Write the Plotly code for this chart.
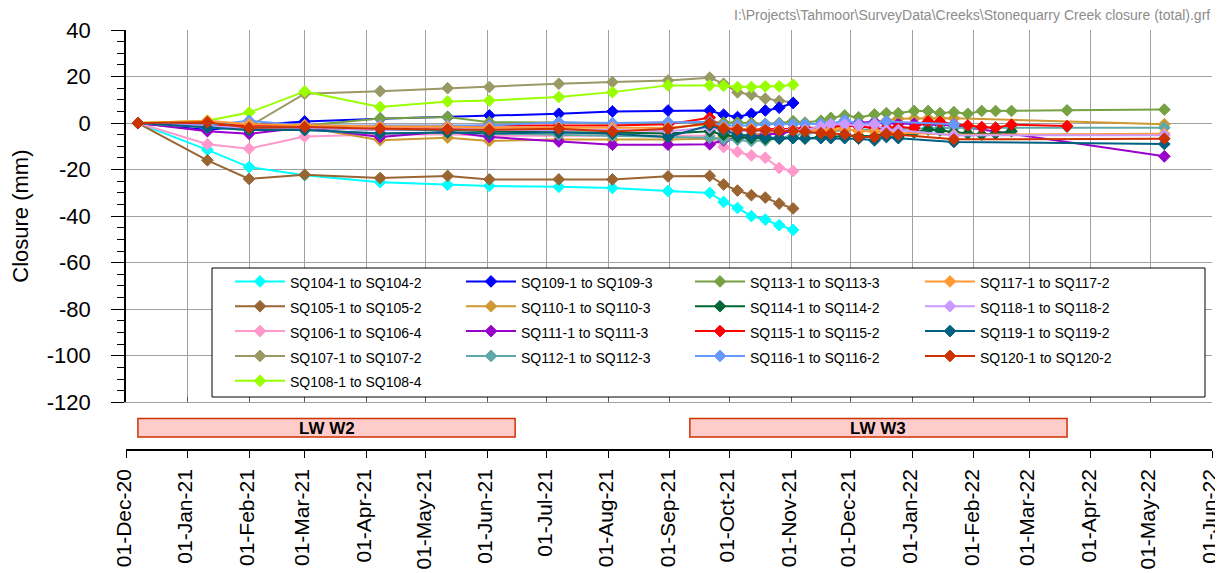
import pandas as pd
import plotly.graph_objects as go

FONT = "Arial, 'Liberation Sans', sans-serif"
N = None

dates = ["2020-12-07", "2021-01-11", "2021-02-01", "2021-03-01", "2021-04-08", "2021-05-12",
         "2021-06-02", "2021-07-07", "2021-08-03", "2021-08-31", "2021-09-21", "2021-09-28",
         "2021-10-05", "2021-10-12", "2021-10-19", "2021-10-26", "2021-11-02", "2021-11-08",
         "2021-11-16", "2021-11-21", "2021-11-28", "2021-12-05", "2021-12-13", "2021-12-19",
         "2021-12-25", "2022-01-02", "2022-01-09", "2022-01-15", "2022-01-22", "2022-01-29",
         "2022-02-05", "2022-02-12", "2022-02-20", "2022-03-20", "2022-05-08"]

names = ["SQ104-1 to SQ104-2", "SQ105-1 to SQ105-2", "SQ106-1 to SQ106-4", "SQ107-1 to SQ107-2",
         "SQ108-1 to SQ108-4", "SQ109-1 to SQ109-3", "SQ110-1 to SQ110-3", "SQ111-1 to SQ111-3",
         "SQ112-1 to SQ112-3", "SQ113-1 to SQ113-3", "SQ114-1 to SQ114-2", "SQ115-1 to SQ115-2",
         "SQ116-1 to SQ116-2", "SQ117-1 to SQ117-2", "SQ118-1 to SQ118-2", "SQ119-1 to SQ119-2",
         "SQ120-1 to SQ120-2"]

colors = ["#00FFFF", "#996633", "#FF99CC", "#999966", "#99FF00", "#0000FF", "#CC9933", "#9900CC",
          "#5FA8A8", "#76A244", "#006633", "#FF0000", "#6699FF", "#FF9933", "#CC99FF", "#00607F",
          "#CC3300"]

sq104 = [0, -11.5, -18.9, -22.4, -25.4, -26.5, -27.0, -27.4, -27.9, -29.2, -30.0, -33.9, -36.5,
         -40.0, -41.5, -43.9, -45.9]
sq105 = [0, -16.0, -24.0, -22.2, -23.6, -22.7, -24.2, -24.2, -24.2, -22.9, -22.7, -26.4, -29.0,
         -31.0, -32.0, -34.6, -36.7]
sq106 = [0, -9.1, -11.0, -5.8, -4.9, -4.8, -5.4, -5.4, -5.1, -5.1, -5.4, -10.3, -12.4, -13.9,
         -14.9, -19.3, -20.6]
sq107 = [0, -0.5, -1.5, 12.6, 13.7, 15.0, 15.5, 16.9, 17.6, 18.3, 19.5, 16.9, 13.2, 12.2, 10.5,
         9.5, 8.8]
sq108 = [0, 1.0, 4.5, 13.6, 6.9, 9.3, 9.7, 11.2, 13.3, 16.2, 16.2, 16.0, 15.5, 15.5, 15.8, 15.8,
         16.5]
sq109 = [0, -3.0, -1.0, 0.7, 1.9, 2.6, 3.3, 4.0, 5.0, 5.4, 5.4, 3.6, 2.6, 4.0, 5.4, 6.6, 8.6]
sq110 = [0, -1.0, -2.1, -1.7, -7.4, -6.3, -7.7, -7.1, -7.1, -7.1, -6.7, -6.0, -5.5, -5.0, -4.5,
         -4.0, -3.5, -3.0, -2.5, -2.0, -1.5, -0.5, 0.5, 1.0, 1.9, 2.0, 2.0, 2.0, 2.1, N, N, N, N, N,
         -0.5]
sq111 = [0, -3.5, -4.6, -1.9, -6.0, -3.6, -6.0, -7.9, -9.3, -9.3, -9.1, -7.4, -6.5, -6.0, -5.0,
         -4.5, -3.5, -3.0, -2.0, -1.5, -0.5, 0.2, 0.5, 0.0, -0.3, -0.3, -0.5, -0.8, -1.0, N, N, N,
         N, N, -14.3]
sq112 = [0, -2.0, -3.0, -3.0, -4.5, -4.0, -4.5, -5.0, -5.5, -6.0, -6.3, -7.0, -7.2, -7.7, -7.5,
         -6.5, -5.5, -4.5, -4.0, -3.5, -3.0, -3.0, -2.5, -2.5, -2.5, -2.3, -2.2, -2.2, -2.0, -2.0,
         -2.0, -1.9, -1.8, -1.7, -2.0]
sq113 = [0, -1.0, -1.5, -1.0, 2.0, 2.6, 0.4, 0.2, -0.3, 0.2, 0.4, 0.2, 0.2, 0.0, -0.3, 0.0, 0.8,
         0.2, 1.0, 2.2, 3.3, 2.5, 3.7, 4.3, 4.3, 5.2, 5.2, 4.3, 4.7, 4.0, 5.2, 5.2, 5.2, 5.5, 5.8]
sq114 = [0, -1.0, -2.0, -2.0, -3.0, -3.0, -3.5, -4.0, -4.0, -4.5, -3.5, -5.0, -6.0, -6.5, -6.7,
         -6.7, -6.3, -6.7, -6.0, -6.0, -5.5, -5.5, -5.7, -4.0, -6.0, -4.0, -2.8, -3.2, -4.0, -4.5,
         -5.0, -4.5, -3.5]
sq115 = [0, -0.5, -1.0, -1.0, -1.5, -1.5, -1.0, -1.0, -1.0, -0.5, 2.3, -2.0, -2.5, -2.5, -2.5,
         -2.5, -2.5, -2.0, -2.0, -1.5, -1.0, -1.5, -2.0, -2.0, -1.7, -2.1, 0.7, 0.5, -0.5, -1.0,
         -1.7, -2.0, -0.7, -1.3]
sq116 = [0, -1.0, 1.0, -1.0, -1.0, -1.0, -1.0, 0.4, 0.0, 0.4, 0.5, -1.0, -1.0, -1.0, -0.5, -0.5,
         -0.5, -0.5, -0.3, -0.3, 1.2, -0.3, 0.0, 0.7, N, N, N, N, -0.5]
sq117 = [0, 1.0, -0.5, -1.0, -1.5, -1.5, -2.0, -2.0, -2.0, -2.0, -0.5, -2.0, -2.5, -2.5, -3.0,
         -3.0, -3.0, -3.0, -3.0, -3.0, -2.4, -3.5, -3.5, -4.0, -4.0, N, N, N, -5.0, N, N, N, N, N,
         -4.6]
sq118 = [0, -1.5, -2.0, -2.0, -3.0, -2.5, -3.0, -3.0, -3.0, -3.5, -2.0, -3.0, -3.5, -3.5, -3.5,
         -3.0, -3.0, -3.0, -1.5, -0.5, -0.5, -1.0, -0.5, -3.0, -3.0, N, N, N, -5.3, N, N, N, N, N,
         -5.2]
sq119 = [0, -2.0, -3.0, -3.0, -4.5, -4.0, -4.5, -3.9, -4.6, -6.0, -1.0, -3.0, -5.0, -5.5, -6.0,
         -6.5, -6.5, -6.5, -6.5, -6.5, -6.5, -6.7, -7.4, -6.0, -6.5, N, N, N, -8.1, N, N, N, N, N,
         -9.0]
sq120 = [0, 0.4, -2.0, -1.7, -2.4, -2.7, -2.9, -2.4, -3.6, -2.4, 0.0, -2.4, -2.8, -3.1, -3.1,
         -3.3, -3.3, -3.6, -4.3, -4.6, -4.8, -6.0, -6.0, -4.6, -5.0, N, N, N, -7.0, N, N, N, N, N,
         -6.7]

series = [sq104, sq105, sq106, sq107, sq108, sq109, sq110, sq111, sq112, sq113, sq114, sq115,
          sq116, sq117, sq118, sq119, sq120]
legend_column = [1, 1, 1, 1, 1, 2, 2, 2, 2, 3, 3, 3, 3, 4, 4, 4, 4]

lw_names = ["LW W2", "LW W3"]
lw_start = ["2020-12-07", "2021-09-11"]
lw_end = ["2021-06-15", "2022-03-20"]

y_ticks = [40, 20, 0, -20, -40, -60, -80, -100, -120]
y_tick_text = ["40", "20", "0", "-20", "-40", "-60", "-80", "-100", "-120"]
file_label = r"I:\Projects\Tahmoor\SurveyData\Creeks\Stonequarry Creek closure (total).grf"

# ---- geometry: the page body has an 8 px margin, so the figure starts at (8, 8) ----
OFF = 8
W, H = 1223 - OFF, 573 - OFF
ML, MR, MT = 126 - OFF, 11, 30 - OFF
AXIS2_Y = 450                        # screen y of the date axis line
MB = H - (AXIS2_Y - OFF)
plot_h = H - MT - MB
plot_w = W - ML - MR


def py(sy):                          # screen y -> paper y
    return (H - MB - (sy - OFF)) / plot_h


def pxx(sx):                         # screen x -> paper x
    return (sx - OFF - ML) / plot_w


fig = go.Figure()
for name, col, vals, lg in zip(names, colors, series, legend_column):
    fig.add_trace(go.Scatter(
        x=dates[:len(vals)], y=vals, name=f'<span style="font-size:14px">{name}</span>',
        mode="lines+markers", connectgaps=True,
        line=dict(color=col, width=2),
        marker=dict(symbol="diamond", size=9, color=col, line=dict(color=col, width=1)),
        legend="legend" if lg == 1 else f"legend{lg}",
        hoverinfo="skip",
    ))

# empty trace that registers the separate date axis below the plot
fig.add_trace(go.Scatter(x=[], y=[], xaxis="x2", yaxis="y", showlegend=False, hoverinfo="skip"))

# longwall bars
for nm, s, e in zip(lw_names, lw_start, lw_end):
    fig.add_shape(type="rect", xref="x", yref="paper", x0=s, x1=e, y0=py(437), y1=py(418.5),
                  fillcolor="#FFCCCC", line=dict(color="#CC3300", width=1.5), layer="above")
    mid = pd.Timestamp(s) + (pd.Timestamp(e) - pd.Timestamp(s)) / 2
    fig.add_annotation(x=mid, xref="x", y=py(428), yref="paper", xanchor="center",
                       yanchor="middle", text=f"<b>{nm}</b>", showarrow=False,
                       font=dict(size=17, family=FONT, color="black"))

# legend frame
fig.add_shape(type="rect", xref="paper", yref="paper", x0=pxx(212), x1=pxx(1205),
              y0=py(397), y1=py(268), fillcolor="white", line=dict(color="black", width=1),
              layer="above")

fig.add_annotation(x=1, xref="paper", xanchor="right", y=py(15), yref="paper", yanchor="middle",
                   text=file_label, showarrow=False,
                   font=dict(size=14, family=FONT, color="#8C8C8C"))

leg_common = dict(xanchor="left", yanchor="top", bgcolor="rgba(0,0,0,0)", borderwidth=0,
                  font=dict(size=16.8, family=FONT, color="black"), itemwidth=50,
                  tracegroupgap=0, y=py(264))
text_x = [290, 521, 750, 980]
legs = {}
for i, tx in enumerate(text_x):
    key = "legend" if i == 0 else f"legend{i + 1}"
    legs[key] = dict(leg_common, x=pxx(tx - 60))

grid_col = "#A0A0A0"
fig.update_layout(
    width=W, height=H,
    margin=dict(l=ML, r=MR, t=MT, b=MB, autoexpand=False),
    paper_bgcolor="white", plot_bgcolor="white",
    font=dict(family=FONT, size=22, color="black"),
    showlegend=True,
    xaxis=dict(type="date", range=["2020-12-01", "2022-06-01"], tick0="2020-12-01", dtick="M1",
               showgrid=True, gridcolor=grid_col, gridwidth=1, showticklabels=False,
               ticks="inside", ticklen=5, tickcolor="#555555", showline=True,
               linecolor=grid_col, linewidth=1, zeroline=False, anchor="y"),
    xaxis2=dict(type="date", matches="x", overlaying="x", anchor="free", position=0,
                side="bottom", tick0="2020-12-01", dtick="M1", tickformat="%d-%b-%y",
                tickangle=-90, showgrid=False, ticks="outside", ticklen=7, tickcolor="black",
                showline=True, linecolor="black", linewidth=1.5, zeroline=False,
                tickfont=dict(size=21, family=FONT, color="black"), ticklabelstandoff=3,
                ticklabelshift=-2),
    yaxis=dict(range=[-120, 40], domain=[py(402.3), 1], tickvals=y_ticks, ticktext=y_tick_text,
               showgrid=True, gridcolor=grid_col, gridwidth=1, zeroline=False,
               showline=True, linecolor="black", linewidth=1.5,
               ticks="outside", ticklen=13, tickcolor="black",
               minor=dict(dtick=5, ticks="outside", ticklen=7, tickcolor="black", showgrid=False),
               tickfont=dict(size=22, family=FONT, color="black"), ticklabelstandoff=16,
               title=dict(text="Closure (mm)", font=dict(size=22, family=FONT, color="black"),
                          standoff=13)),
    **legs,
)

fig.write_html("out.html")
